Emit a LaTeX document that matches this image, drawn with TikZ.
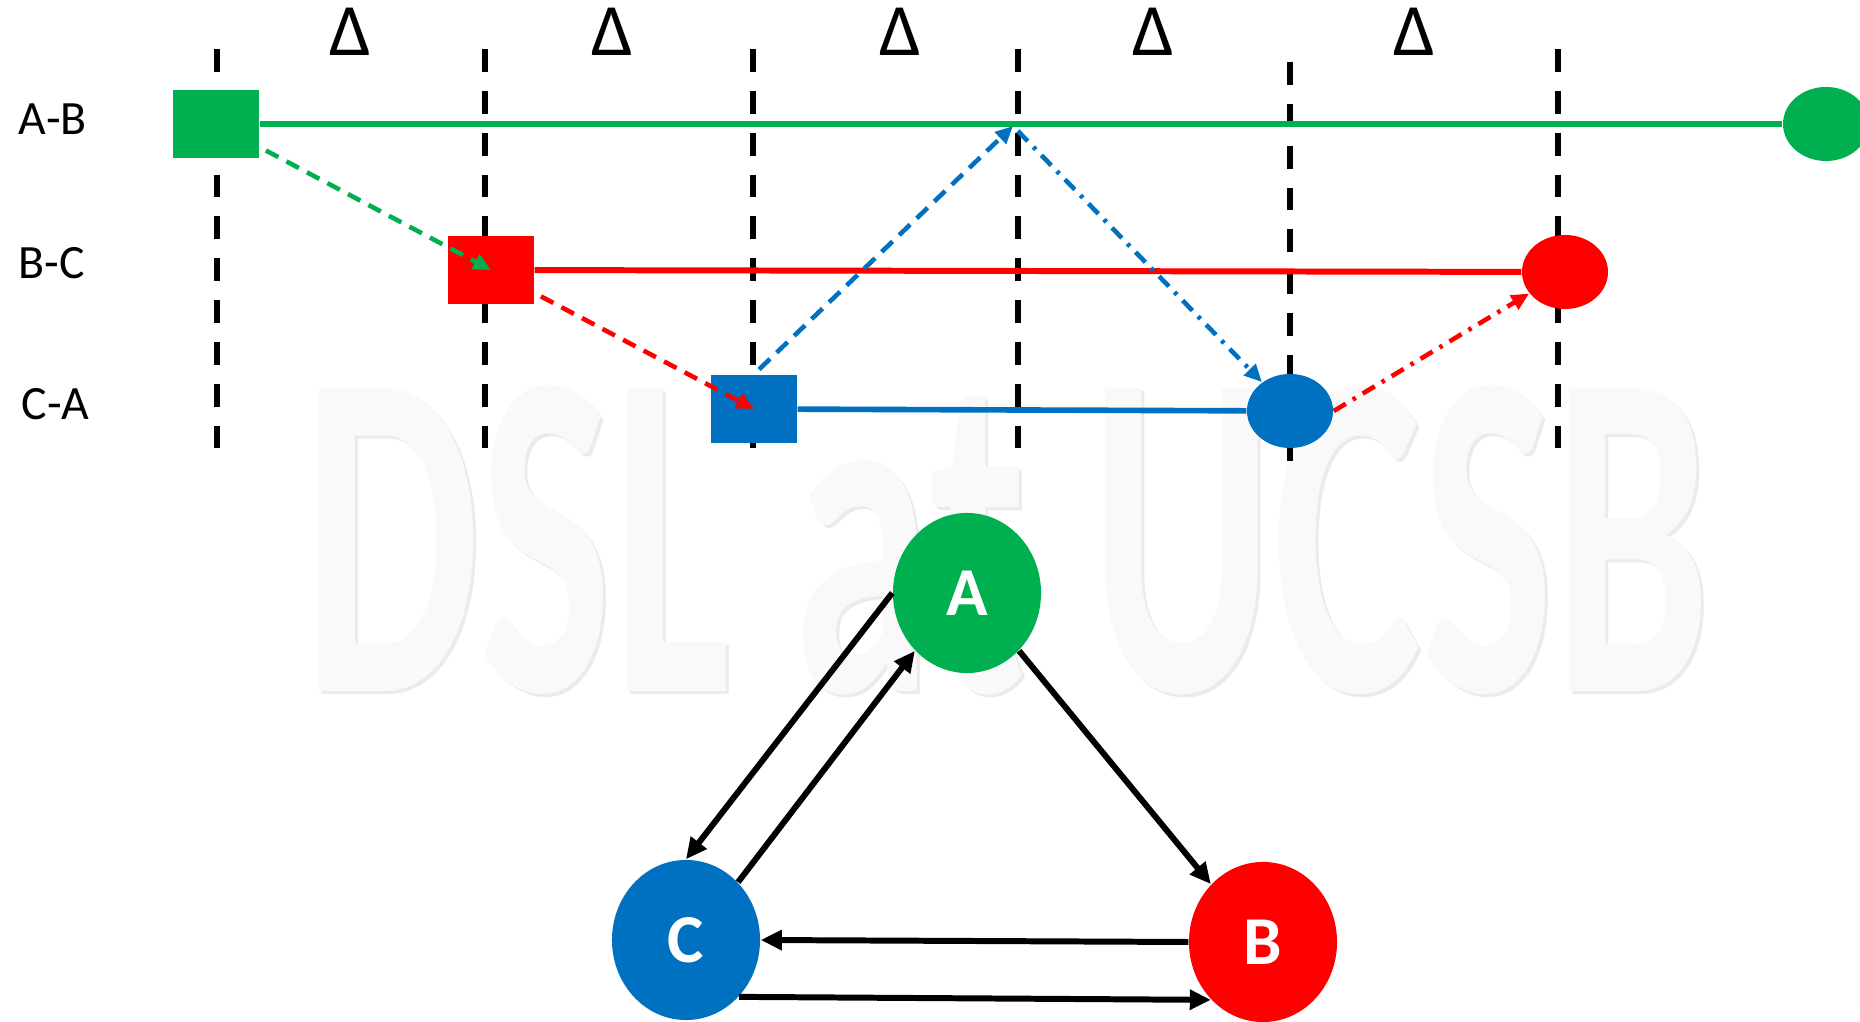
\documentclass[tikz,border=0pt]{standalone}
\usepackage{fontspec}
\setmainfont{Carlito}
\usetikzlibrary{shapes.geometric,arrows.meta}
\definecolor{abgreen}{HTML}{00B050}
\definecolor{bcred}{HTML}{FF0000}
\definecolor{cablue}{HTML}{0070C0}
\tikzset{
  gridline/.style={line width=1.7pt, dash pattern=on 6.5pt off 5.4pt},
  rowlabel/.style={anchor=west, inner sep=0, font=\fontsize{13.6}{16}\selectfont},
  deltalabel/.style={inner sep=0, font=\fontsize{21}{24}\selectfont},
  startbox/.style={rectangle, inner sep=0, minimum width=0.86cm, minimum height=0.68cm},
  endblob/.style={ellipse, inner sep=0, minimum width=0.86cm, minimum height=0.74cm},
  peer/.style={ellipse, inner sep=0, minimum width=1.48cm, minimum height=1.6cm, text=white, font=\fontsize{19.5}{22}\selectfont\bfseries},
  msg/.style={line width=1.3pt, -{Triangle[length=5pt,width=4.5pt]}, shorten <=2pt},
  link/.style={line width=1.7pt, -{Triangle[length=6pt,width=5.5pt]}},
  watermark/.style={inner sep=0, font=\fontsize{132.8}{140}\selectfont\bfseries}
}
\begin{document}
\begin{tikzpicture}[x=0.01cm, y=-0.01cm]
\useasboundingbox (0,0) rectangle (1860,1022);
% watermark
\node[watermark, text=gray!16] (markshadow) at (1010,543) {\scalebox{0.6}[1]{DSL at UCSB}};
\node[watermark, text=gray!5] (marktext) at (1007,540) {\scalebox{0.6}[1]{DSL at UCSB}};
% rows and intervals
\node[rowlabel] (lab1) at (18,119) {A-B};
\node[rowlabel] (lab2) at (18,263) {B-C};
\node[rowlabel] (lab3) at (21,404) {C-A};
\node[deltalabel] (d1) at (350,32) {Δ};
\node[deltalabel] (d2) at (612,32) {Δ};
\node[deltalabel] (d3) at (900,32) {Δ};
\node[deltalabel] (d4) at (1153,32) {Δ};
\node[deltalabel] (d5) at (1414,32) {Δ};
\draw[gridline] (217,49) -- (217,456);
\draw[gridline] (485,49) -- (485,456);
\draw[gridline] (753,49) -- (753,456);
\draw[gridline] (1018,49) -- (1018,456);
\draw[gridline] (1290,62) -- (1290,469);
\draw[gridline] (1558,49) -- (1558,456);
% sessions
\node[startbox, fill=abgreen] (ABstart) at (216,124) {};
\node[startbox, fill=bcred] (BCstart) at (491,270) {};
\node[startbox, fill=cablue] (CAstart) at (754,409) {};
\node[endblob, fill=abgreen] (ABend) at (1826,124) {};
\node[endblob, fill=bcred] (BCend) at (1565,272) {};
\node[endblob, fill=cablue] (CAend) at (1290,411) {};
\coordinate (peak) at (1013,126);
\draw[abgreen, line width=1.6pt] (ABstart) -- (ABend);
\draw[bcred, line width=1.7pt] (BCstart) -- (BCend);
\draw[cablue, line width=1.6pt] (CAstart) -- (CAend);
\draw[msg, abgreen, dash pattern=on 4pt off 2.6pt] (ABstart) -- (BCstart.center);
\draw[msg, bcred, dash pattern=on 4pt off 2.6pt] (BCstart) -- (CAstart.center);
\draw[msg, cablue, dash pattern=on 4.3pt off 2.6pt] (CAstart.north) -- (peak);
\draw[msg, cablue, dash pattern=on 4pt off 2.3pt on 1pt off 2.3pt] (peak) -- (CAend);
\draw[msg, bcred, dash pattern=on 4pt off 2.3pt on 1pt off 2.3pt, shorten <=0pt] (CAend.east) -- (BCend);
% peers
\node[peer, fill=abgreen] (A) at (967,593) {A};
\node[peer, fill=cablue] (C) at (686,940) {C};
\node[peer, fill=bcred] (B) at (1263,942) {B};
\draw[link] (A.west) -- (C.north);
\draw[link] (C.48) -- (A.228);
\draw[link] (A.-48) -- (B.132);
\draw[link] (B.west) -- (C.east);
\draw[link] (C.-47) -- (B.228);
\end{tikzpicture}
\end{document}
